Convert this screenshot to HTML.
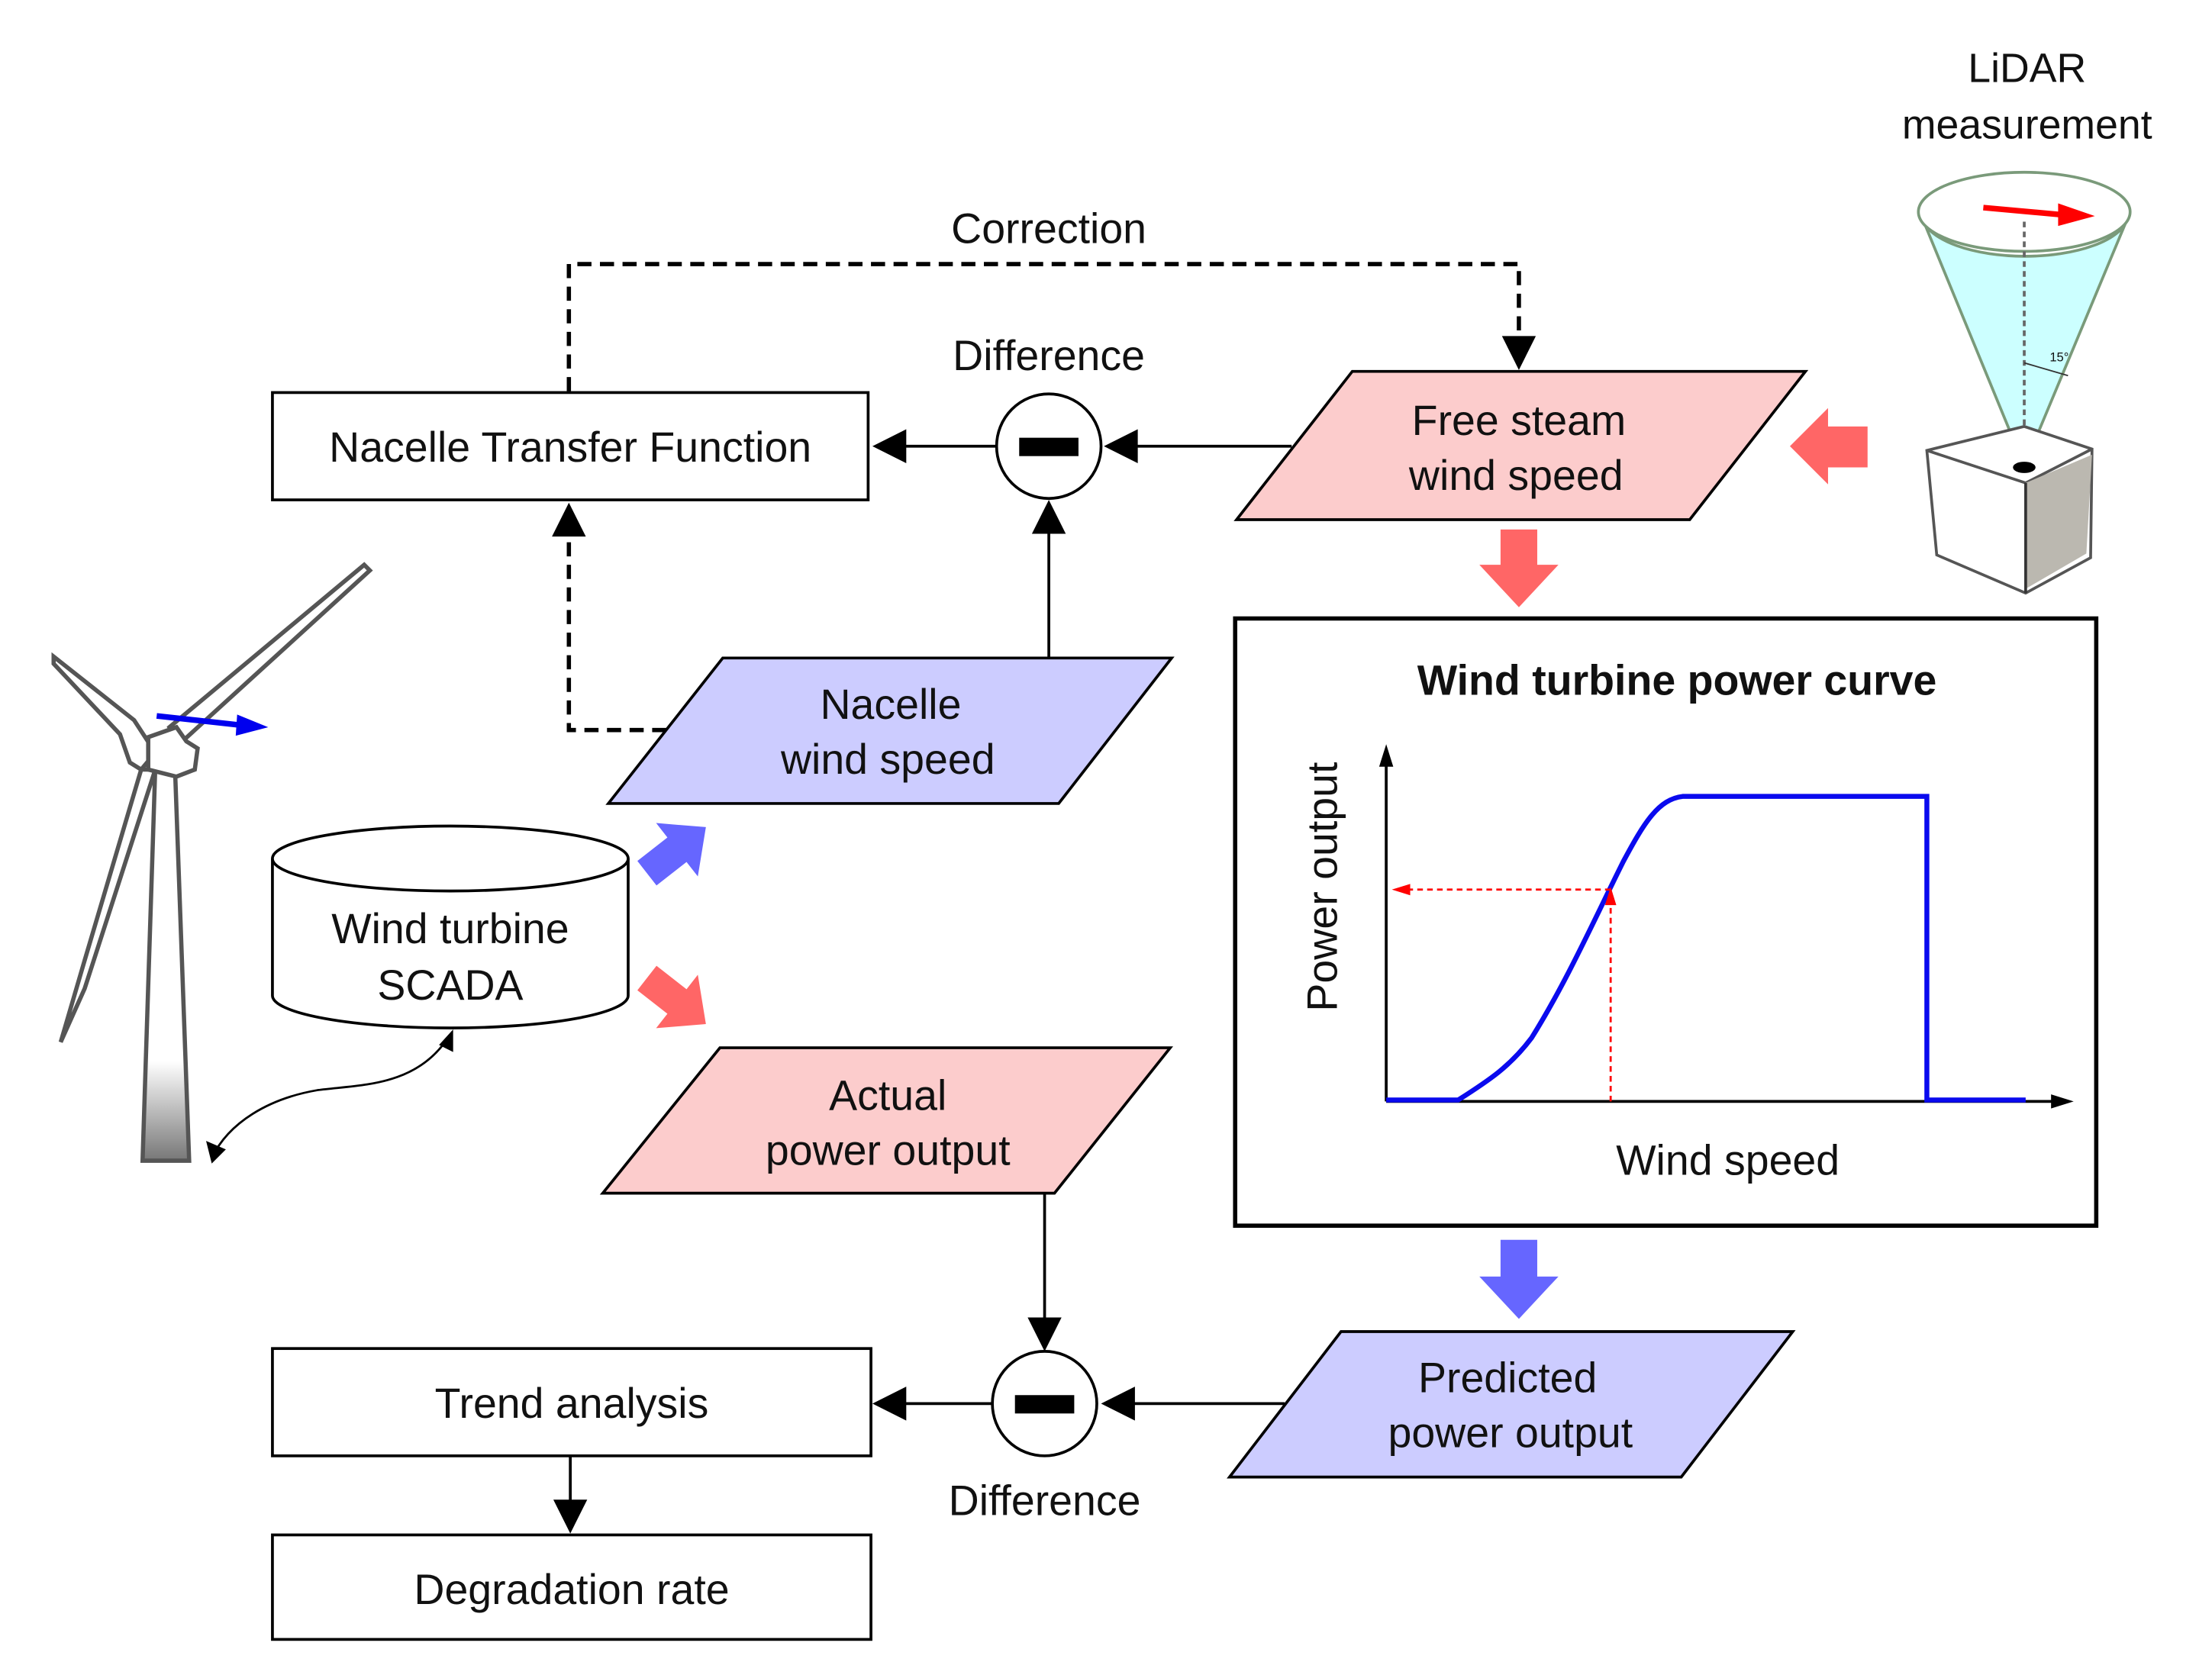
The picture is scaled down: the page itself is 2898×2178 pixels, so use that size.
<!DOCTYPE html>
<html><head><meta charset="utf-8"><style>html,body{margin:0;padding:0;background:#fff}svg{display:block}text{font-family:"Liberation Sans",sans-serif;fill:#111}</style></head>
<body>
<svg width="2898" height="2178" viewBox="0 0 1567 1177" preserveAspectRatio="none" xmlns="http://www.w3.org/2000/svg">
<defs>
<linearGradient id="tg" x1="0" y1="0" x2="0" y2="1"><stop offset="0" stop-color="#fff"/><stop offset="0.75" stop-color="#fff"/><stop offset="1" stop-color="#777"/></linearGradient>
</defs>
<g font-size="30">
<text x="743" y="172" text-anchor="middle">Correction</text>
<path d="M403,277 V187 H1076 V240" fill="none" stroke="#000" stroke-width="3" stroke-dasharray="10,6"/>
<path d="M1064,238 L1088,238 L1076,262 z" fill="#000"/>
<rect x="193" y="278" width="422" height="76" fill="#fff" stroke="#000" stroke-width="2"/>
<text x="404" y="327" text-anchor="middle">Nacelle Transfer Function</text>
<text x="743" y="262" text-anchor="middle">Difference</text>
<circle cx="743" cy="316" r="37" fill="#fff" stroke="#000" stroke-width="2"/>
<rect x="722" y="310" width="42" height="13" fill="#000"/>
<line x1="706" y1="316" x2="640" y2="316" stroke="#000" stroke-width="2"/>
<path d="M642,304 L642,328 L618,316 z" fill="#000"/>
<line x1="915" y1="316" x2="805" y2="316" stroke="#000" stroke-width="2"/>
<path d="M806,304 L806,328 L782,316 z" fill="#000"/>
<line x1="743" y1="466" x2="743" y2="376" stroke="#000" stroke-width="2"/>
<path d="M731,378 L755,378 L743,354 z" fill="#000"/>
<polygon points="958,263 1279,263 1197,368 876,368" fill="#fccccc" stroke="#000" stroke-width="2"/>
<text x="1076" y="308" text-anchor="middle">Free steam</text>
<text x="1074" y="347" text-anchor="middle">wind speed</text>
<polygon points="1268,316 1295,289 1295,302 1323,302 1323,331 1295,331 1295,343" fill="#ff6666"/>
<polygon points="1063,375 1089,375 1089,400 1104,400 1076,430 1048,400 1063,400" fill="#ff6666"/>
<rect x="875" y="438" width="610" height="430" fill="#fff" stroke="#000" stroke-width="3"/>
<text x="1188" y="492" text-anchor="middle" font-weight="bold">Wind turbine power curve</text>
<line x1="982" y1="780" x2="982" y2="540" stroke="#000" stroke-width="2"/>
<path d="M977,543 L987,543 L982,527 z" fill="#000"/>
<line x1="982" y1="780" x2="1455" y2="780" stroke="#000" stroke-width="2"/>
<path d="M1453,775 L1453,785 L1469,780 z" fill="#000"/>
<path d="M982,779 L1033,779 C1055,765 1070,755 1085,735 C1110,695 1130,650 1150,610 C1165,582 1175,566 1192,564 L1365,564 L1365,779 L1435,779" fill="none" stroke="#0a0aee" stroke-width="3.5"/>
<line x1="1141" y1="780" x2="1141" y2="638" stroke="#f00" stroke-width="1.5" stroke-dasharray="4,3"/>
<path d="M1137,641 L1145,641 L1141,628 z" fill="#f00"/>
<line x1="1141" y1="630" x2="996" y2="630" stroke="#f00" stroke-width="1.5" stroke-dasharray="4,3"/>
<path d="M999,626 L999,634 L986,630 z" fill="#f00"/>
<text transform="translate(947,628) rotate(-90)" text-anchor="middle">Power output</text>
<text x="1224" y="832" text-anchor="middle">Wind speed</text>
<polygon points="1063,878 1089,878 1089,904 1104,904 1076,934 1048,904 1063,904" fill="#6666ff"/>
<polygon points="950,943 1270,943 1191,1046 871,1046" fill="#ccccff" stroke="#000" stroke-width="2"/>
<text x="1068" y="986" text-anchor="middle">Predicted</text>
<text x="1070" y="1025" text-anchor="middle">power output</text>
<circle cx="740" cy="994" r="37" fill="#fff" stroke="#000" stroke-width="2"/>
<rect x="719" y="988" width="42" height="13" fill="#000"/>
<line x1="910" y1="994" x2="802" y2="994" stroke="#000" stroke-width="2"/>
<path d="M804,982 L804,1006 L780,994 z" fill="#000"/>
<line x1="703" y1="994" x2="640" y2="994" stroke="#000" stroke-width="2"/>
<path d="M642,982 L642,1006 L618,994 z" fill="#000"/>
<line x1="740" y1="845" x2="740" y2="935" stroke="#000" stroke-width="2"/>
<path d="M728,933 L752,933 L740,957 z" fill="#000"/>
<text x="740" y="1073" text-anchor="middle">Difference</text>
<polygon points="510,742 829,742 747,845 427,845" fill="#fccccc" stroke="#000" stroke-width="2"/>
<text x="629" y="786" text-anchor="middle">Actual</text>
<text x="629" y="825" text-anchor="middle">power output</text>
<rect x="193" y="955" width="424" height="76" fill="#fff" stroke="#000" stroke-width="2"/>
<text x="405" y="1004" text-anchor="middle">Trend analysis</text>
<line x1="404" y1="1031" x2="404" y2="1064" stroke="#000" stroke-width="2"/>
<path d="M392,1062 L416,1062 L404,1086 z" fill="#000"/>
<rect x="193" y="1087" width="424" height="74" fill="#fff" stroke="#000" stroke-width="2"/>
<text x="405" y="1136" text-anchor="middle">Degradation rate</text>
<polygon points="512,466 830,466 750,569 431,569" fill="#ccccff" stroke="#000" stroke-width="2"/>
<text x="631" y="509" text-anchor="middle">Nacelle</text>
<text x="629" y="548" text-anchor="middle">wind speed</text>
<path d="M472,517 H403 V378" fill="none" stroke="#000" stroke-width="3" stroke-dasharray="10,6"/>
<path d="M391,380 L415,380 L403,356 z" fill="#000"/>
<g transform="translate(478,603) rotate(-38)"><polygon points="-25,-11 2,-11 2,-24 28,0 2,24 2,11 -25,11" fill="#6666ff"/></g>
<g transform="translate(478,708) rotate(38)"><polygon points="-25,-11 2,-11 2,-24 28,0 2,24 2,11 -25,11" fill="#ff6666"/></g>
<path d="M193,608 V705 A126,23 0 0 0 445,705 V608" fill="#fff" stroke="#000" stroke-width="2"/>
<ellipse cx="319" cy="608" rx="126" ry="23" fill="#fff" stroke="#000" stroke-width="2"/>
<text x="319" y="668" text-anchor="middle">Wind turbine</text>
<text x="319" y="708" text-anchor="middle">SCADA</text>
<path d="M318,734 C295,770 255,768 225,772 C190,778 162,795 150,820" fill="none" stroke="#000" stroke-width="1.5"/>
<path d="M311,740 L321,729 L321,745 z" fill="#000"/>
<path d="M146,808 L150,824 L160,814 z" fill="#000"/>
<path d="M101,822 L110,543 L118,540 L124,545 L134,822 z" fill="url(#tg)" stroke="#555" stroke-width="3"/>
<path d="M38,465 L95,510 L110,533 L100,545 L92,540 L85,520 L38,470 z" fill="#fff" stroke="#555" stroke-width="3"/>
<path d="M120,515 L258,400 L262,404 L127,527 z" fill="#fff" stroke="#555" stroke-width="3"/>
<path d="M100,545 L110,545 L60,700 L43,738 L60,680 z" fill="#fff" stroke="#555" stroke-width="3"/>
<path d="M105,522 L125,515 L132,525 L140,530 L138,545 L125,550 L105,545 z" fill="#fff" stroke="#555" stroke-width="3"/>
<line x1="111" y1="507" x2="175" y2="514" stroke="#0000ee" stroke-width="4"/>
<path d="M168,506 L190,515 L167,521 z" fill="#0000ee"/>
<text x="1436" y="58" text-anchor="middle" font-size="29">LiDAR</text>
<text x="1436" y="98" text-anchor="middle" font-size="29">measurement</text>
<path d="M1362,155 L1434,330 L1507,155 A73,30 0 0 1 1362,155 z" fill="#ccffff" stroke="#7a9a7a" stroke-width="2"/>
<ellipse cx="1434" cy="150" rx="75" ry="28" fill="#fff" stroke="#7a9a7a" stroke-width="2"/>
<line x1="1434" y1="157" x2="1434" y2="330" stroke="#666" stroke-width="2" stroke-dasharray="4,3"/>
<line x1="1434" y1="257" x2="1465" y2="266" stroke="#333" stroke-width="1"/>
<text x="1452" y="256" font-size="9">15°</text>
<line x1="1405" y1="147" x2="1460" y2="152" stroke="#f00" stroke-width="4"/>
<path d="M1458,144 L1484,153 L1458,160 z" fill="#f00"/>
<path d="M1365,319 L1434,302 L1482,318 L1481,395 L1435,420 L1372,393 z" fill="#fff" stroke="#555" stroke-width="2"/>
<path d="M1365,319 L1435,342 L1482,318" fill="none" stroke="#555" stroke-width="2"/>
<path d="M1435,342 L1482,322 L1478,392 L1435,417 z" fill="#bbb8b0"/>
<line x1="1435" y1="342" x2="1435" y2="420" stroke="#333" stroke-width="2"/>
<ellipse cx="1434" cy="331" rx="8" ry="4" fill="#000"/>
</g>
</svg>
</body></html>
